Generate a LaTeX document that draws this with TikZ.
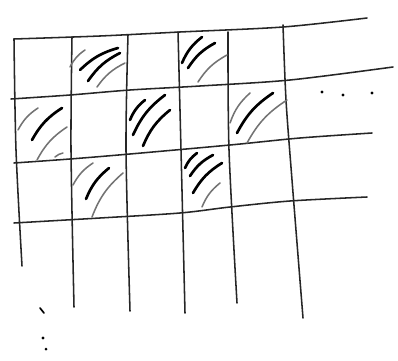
\documentclass[tikz,border=0pt]{standalone}
\usepackage{tikz}

\begin{document}
\begin{tikzpicture}[x=0.025cm,y=-0.025cm,
    gridline/.style={black!85,line width=1.1pt,line cap=round},
    ink/.style={black,line width=1.9pt,line cap=round},
    pencil/.style={black!55,line width=1.1pt,line cap=round}]
  \useasboundingbox (0,0) rectangle (398,360);

  % rows, drawn by hand so not quite straight
  \draw[gridline] plot[smooth] coordinates {(14,39) (100,36) (180,32) (283,27) (367,18)};
  \draw[gridline] plot[smooth] coordinates {(11,99) (70,95) (130,90) (200,86) (290,80) (393,67)};
  \draw[gridline] plot[smooth] coordinates {(14,163) (70,159) (130,154) (230,145) (300,138) (372,133)};
  \draw[gridline] plot[smooth] coordinates {(14,223) (100,218) (180,213) (230,207) (290,201) (367,197)};

  % columns
  \draw[gridline] plot[smooth] coordinates {(14,39) (16,150) (22,266)};
  \draw[gridline] plot[smooth] coordinates {(72,37) (71,150) (74,307)};
  \draw[gridline] plot[smooth] coordinates {(128,35) (126,150) (130,311)};
  \draw[gridline] plot[smooth] coordinates {(178,32) (181,150) (185,313)};
  \draw[gridline] plot[smooth] coordinates {(228,32) (229,150) (237,303)};
  \draw[gridline] plot[smooth] coordinates {(283,25) (286,100) (292,180) (303,318)};

  % hatching of the shaded cells
  \foreach \xa/\ya/\xb/\yb in {80/70/118/48, 88/81/120/53,
      182/63/202/37, 188/68/215/43,
      32/140/62/108,
      130/120/145/100, 133/135/165/95, 143/146/170/110,
      237/133/273/93,
      86/199/109/168,
      185/168/197/153, 190/176/213/155, 193/193/222/163} {
    \draw[ink] (\xa,\ya) to[bend left=14] (\xb,\yb);
  }
  \foreach \xa/\ya/\xb/\yb in {70/67/85/50, 97/87/125/63,
      198/82/227/55,
      18/130/38/108, 37/160/67/127, 55/157/63/153,
      230/123/250/93, 247/143/287/100,
      73/185/93/163, 92/217/123/173,
      202/207/220/183} {
    \draw[pencil] (\xa,\ya) to[bend left=14] (\xb,\yb);
  }

  % the grid goes on
  \foreach \px/\py in {322/92, 343/95, 372/93} {
    \fill (\px,\py) circle (1.6);
  }
  \draw[line width=1.2pt,line cap=round] (40,308) -- (44,313);
  \fill (43,338) circle (1.6);
  \fill (46,349) circle (1.5);
\end{tikzpicture}
\end{document}
